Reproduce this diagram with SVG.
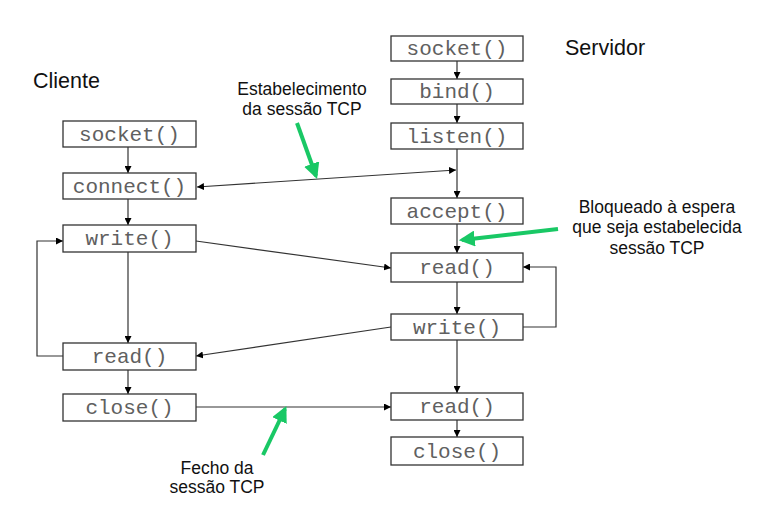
<svg xmlns="http://www.w3.org/2000/svg" width="779" height="508" viewBox="0 0 779 508">
<defs>
<marker id="ah" viewBox="0 0 10 10" refX="10" refY="5" markerWidth="7" markerHeight="7" markerUnits="userSpaceOnUse" orient="auto-start-reverse">
<path d="M0,0 L10,5 L0,10 z" fill="#000"/>
</marker>
<marker id="gh" viewBox="0 0 10 10" refX="8" refY="5" markerWidth="4" markerHeight="4" orient="auto">
<path d="M0,0 L10,5 L0,10 z" fill="#19c865"/>
</marker>
<style>
.box rect{fill:#fff;stroke:#333;stroke-width:1.3}
.box text{font-family:"Liberation Mono","Courier New",monospace;font-size:21px;fill:#606060;text-anchor:middle}
.lbl{font-family:"Liberation Sans",Arial,sans-serif;fill:#111}
.ann{font-size:17.5px;text-anchor:middle}
.ttl{font-size:21.5px}
.c line,.c polyline{stroke:#333;stroke-width:1.2;fill:none}
.g line{stroke:#19c865;stroke-width:4;marker-end:url(#gh)}
</style>
</defs>
<rect width="779" height="508" fill="#fff"/>

<g class="c" id="connectors">
<line x1="128" y1="147" x2="128" y2="173" marker-end="url(#ah)"/>
<line x1="128" y1="199" x2="128" y2="225" marker-end="url(#ah)"/>
<line x1="128" y1="252" x2="128" y2="343" marker-end="url(#ah)"/>
<line x1="128" y1="370" x2="128" y2="394" marker-end="url(#ah)"/>
<line x1="457" y1="61" x2="457" y2="79" marker-end="url(#ah)"/>
<line x1="457" y1="104" x2="457" y2="123" marker-end="url(#ah)"/>
<line x1="457" y1="149" x2="457" y2="198" marker-end="url(#ah)"/>
<line x1="457" y1="224" x2="457" y2="253" marker-end="url(#ah)"/>
<line x1="457" y1="282" x2="457" y2="314" marker-end="url(#ah)"/>
<line x1="457" y1="340" x2="457" y2="393" marker-end="url(#ah)"/>
<line x1="457" y1="420" x2="457" y2="437" marker-end="url(#ah)"/>
<line x1="197" y1="187" x2="456" y2="170" marker-start="url(#ah)" marker-end="url(#ah)"/>
<line x1="196" y1="241" x2="391" y2="268" marker-end="url(#ah)"/>
<line x1="391" y1="327" x2="196" y2="356" marker-end="url(#ah)"/>
<line x1="196" y1="407" x2="391" y2="407" marker-end="url(#ah)"/>
<polyline points="63,356 37,356 37,241 63,241" marker-end="url(#ah)"/>
<polyline points="523,327 556,327 556,267 523,267" marker-end="url(#ah)"/>
</g>

<g class="g" id="annotation-arrows">
<line x1="297" y1="123" x2="316" y2="176"/>
<line x1="558" y1="229" x2="462" y2="240"/>
<line x1="263" y1="455" x2="285" y2="409"/>
</g>

<g class="box" id="c-socket"><rect x="63" y="121" width="133" height="26"/><text x="129.5" y="141">socket()</text></g>
<g class="box" id="c-connect"><rect x="63" y="173" width="133" height="26"/><text x="129.5" y="193">connect()</text></g>
<g class="box" id="c-write"><rect x="63" y="225" width="133" height="27"/><text x="129.5" y="245">write()</text></g>
<g class="box" id="c-read"><rect x="63" y="343" width="133" height="27"/><text x="129.5" y="363">read()</text></g>
<g class="box" id="c-close"><rect x="63" y="394" width="133" height="27"/><text x="129.5" y="414">close()</text></g>

<g class="box" id="s-socket"><rect x="391" y="36" width="132" height="25"/><text x="457" y="55">socket()</text></g>
<g class="box" id="s-bind"><rect x="391" y="79" width="132" height="25"/><text x="457" y="98">bind()</text></g>
<g class="box" id="s-listen"><rect x="391" y="123" width="132" height="26"/><text x="457" y="143">listen()</text></g>
<g class="box" id="s-accept"><rect x="391" y="198" width="132" height="26"/><text x="457" y="218">accept()</text></g>
<g class="box" id="s-read"><rect x="391" y="253" width="132" height="29"/><text x="457" y="274">read()</text></g>
<g class="box" id="s-write"><rect x="391" y="314" width="132" height="26"/><text x="457" y="334">write()</text></g>
<g class="box" id="s-read2"><rect x="391" y="393" width="132" height="27"/><text x="457" y="413">read()</text></g>
<g class="box" id="s-close"><rect x="391" y="437" width="132" height="28"/><text x="457" y="458">close()</text></g>

<g id="labels" class="lbl">
<text class="ttl" x="33" y="88">Cliente</text>
<text class="ttl" x="565" y="55">Servidor</text>
<text class="ann" x="302" y="95">Estabelecimento</text>
<text class="ann" x="302" y="115">da sessão TCP</text>
<text class="ann" x="657" y="213">Bloqueado à espera</text>
<text class="ann" x="657" y="233">que seja estabelecida</text>
<text class="ann" x="657" y="254">sessão TCP</text>
<text class="ann" x="217" y="474">Fecho da</text>
<text class="ann" x="217" y="493">sessão TCP</text>
</g>
</svg>
